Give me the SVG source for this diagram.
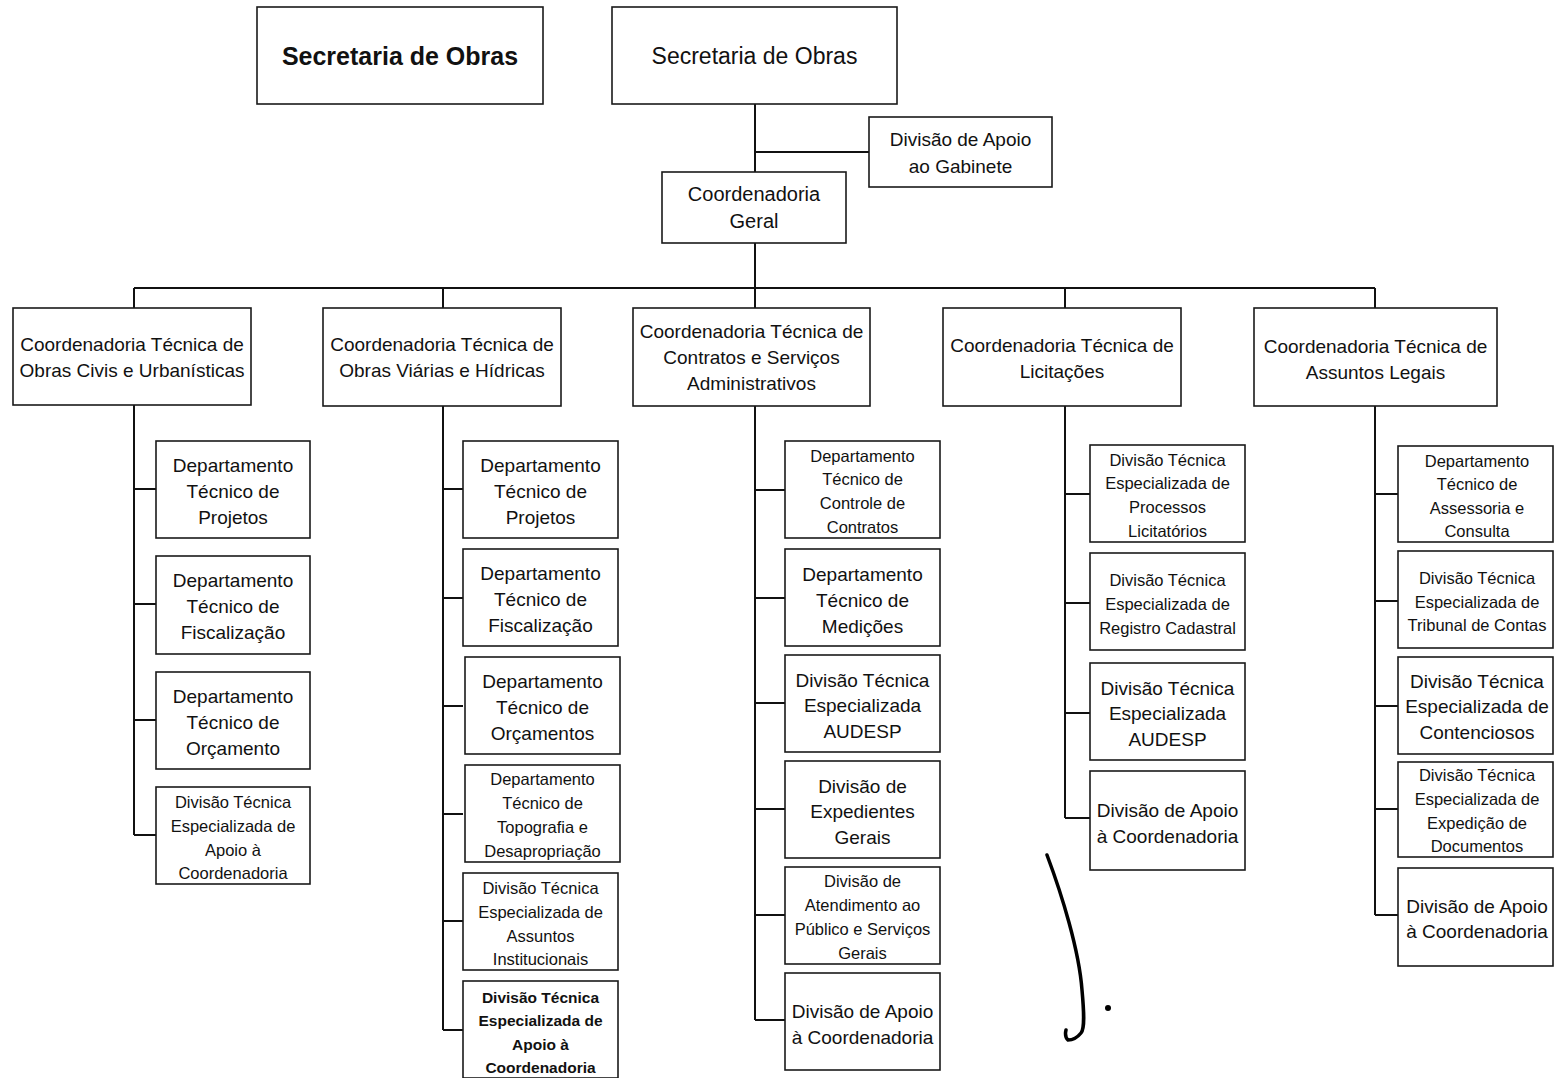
<svg xmlns="http://www.w3.org/2000/svg" width="1554" height="1078" viewBox="0 0 1554 1078">
<style>
.box{fill:#fff;stroke:#1a1a1a;stroke-width:1.6}
.c{fill:none;stroke:#111;stroke-width:2}
text{font-family:"Liberation Sans",Arial,sans-serif;fill:#111;text-anchor:middle;dominant-baseline:central}
.t19{font-size:19px}
.t20{font-size:20px}
.t16{font-size:16.5px}
.b16{font-size:15.5px;font-weight:bold}
.title{font-size:25px;font-weight:bold}
</style>
<rect width="1554" height="1078" fill="#fff"/>
<g id="connectors">
<path class="c" d="M755 104V172M755 152H869M755 243V288M134 288H1375M134 288V308M443 288V308M755 288V308M1065 288V308M1375 288V308"/>
<path class="c" d="M134 405V835M134 489H156M134 604H156M134 720H156M134 835H156"/>
<path class="c" d="M443 406V1030M443 489H463M443 598H463M443 706H463M443 814H463M443 921H463M443 1030H463"/>
<path class="c" d="M755 406V1020M755 490H785M755 598H785M755 703H785M755 809H785M755 915H785M755 1020H785"/>
<path class="c" d="M1065 406V818M1065 494H1090M1065 603H1090M1065 713H1090M1065 818H1090"/>
<path class="c" d="M1375 406V915M1375 494H1398M1375 601H1398M1375 706H1398M1375 809H1398M1375 915H1398"/>
</g>
<g id="sec-left"><rect class="box" x="257" y="7" width="286" height="97"/><text class="title" x="400" y="56">Secretaria de Obras</text></g>
<g id="sec-right"><rect class="box" x="612" y="7" width="285" height="97"/><text x="754.5" y="56" style="font-size:23px">Secretaria de Obras</text></g>
<g id="apoio-gabinete"><rect class="box" x="869" y="117" width="183" height="70"/><text class="t19" x="960.5" y="139">Divisão de Apoio</text><text class="t19" x="960.5" y="166">ao Gabinete</text></g>
<g id="coord-geral"><rect class="box" x="662" y="172" width="184" height="71"/><text class="t20" x="754" y="194">Coordenadoria</text><text class="t20" x="754" y="221">Geral</text></g>

<g id="ct1"><rect class="box" x="13" y="308" width="238" height="97"/><text class="t19" x="132" y="344">Coordenadoria Técnica de</text><text class="t19" x="132" y="370">Obras Civis e Urbanísticas</text></g>
<g id="ct2"><rect class="box" x="323" y="308" width="238" height="98"/><text class="t19" x="442" y="344">Coordenadoria Técnica de</text><text class="t19" x="442" y="370">Obras Viárias e Hídricas</text></g>
<g id="ct3"><rect class="box" x="633" y="308" width="237" height="98"/><text class="t19" x="751.5" y="331">Coordenadoria Técnica de</text><text class="t19" x="751.5" y="357">Contratos e Serviços</text><text class="t19" x="751.5" y="383">Administrativos</text></g>
<g id="ct4"><rect class="box" x="943" y="308" width="238" height="98"/><text class="t19" x="1062" y="345">Coordenadoria Técnica  de</text><text class="t19" x="1062" y="371">Licitações</text></g>
<g id="ct5"><rect class="box" x="1254" y="308" width="243" height="98"/><text class="t19" x="1375.5" y="346">Coordenadoria Técnica de</text><text class="t19" x="1375.5" y="372">Assuntos Legais</text></g>

<g id="c1-1"><rect class="box" x="156" y="441" width="154" height="97"/><text class="t19" x="233" y="465">Departamento</text><text class="t19" x="233" y="491">Técnico de</text><text class="t19" x="233" y="517">Projetos</text></g>
<g id="c1-2"><rect class="box" x="156" y="556" width="154" height="98"/><text class="t19" x="233" y="580">Departamento</text><text class="t19" x="233" y="606">Técnico de</text><text class="t19" x="233" y="632">Fiscalização</text></g>
<g id="c1-3"><rect class="box" x="156" y="672" width="154" height="97"/><text class="t19" x="233" y="696">Departamento</text><text class="t19" x="233" y="722">Técnico de</text><text class="t19" x="233" y="748">Orçamento</text></g>
<g id="c1-4"><rect class="box" x="156" y="787" width="154" height="97"/><text class="t16" x="233" y="802">Divisão Técnica</text><text class="t16" x="233" y="826">Especializada de</text><text class="t16" x="233" y="850">Apoio à</text><text class="t16" x="233" y="873">Coordenadoria</text></g>

<g id="c2-1"><rect class="box" x="463" y="441" width="155" height="97"/><text class="t19" x="540.5" y="465">Departamento</text><text class="t19" x="540.5" y="491">Técnico de</text><text class="t19" x="540.5" y="517">Projetos</text></g>
<g id="c2-2"><rect class="box" x="463" y="549" width="155" height="97"/><text class="t19" x="540.5" y="573">Departamento</text><text class="t19" x="540.5" y="599">Técnico de</text><text class="t19" x="540.5" y="625">Fiscalização</text></g>
<g id="c2-3"><rect class="box" x="465" y="657" width="155" height="97"/><text class="t19" x="542.5" y="681">Departamento</text><text class="t19" x="542.5" y="707">Técnico de</text><text class="t19" x="542.5" y="733">Orçamentos</text></g>
<g id="c2-4"><rect class="box" x="465" y="765" width="155" height="97"/><text class="t16" x="542.5" y="779">Departamento</text><text class="t16" x="542.5" y="803">Técnico de</text><text class="t16" x="542.5" y="827">Topografia e</text><text class="t16" x="542.5" y="851">Desapropriação</text></g>
<g id="c2-5"><rect class="box" x="463" y="873" width="155" height="97"/><text class="t16" x="540.5" y="888">Divisão Técnica</text><text class="t16" x="540.5" y="912">Especializada de</text><text class="t16" x="540.5" y="936">Assuntos</text><text class="t16" x="540.5" y="959">Institucionais</text></g>
<g id="c2-6"><rect class="box" x="463" y="981" width="155" height="97"/><text class="b16" x="540.5" y="997">Divisão Técnica</text><text class="b16" x="540.5" y="1020">Especializada de</text><text class="b16" x="540.5" y="1044">Apoio à</text><text class="b16" x="540.5" y="1067">Coordenadoria</text></g>

<g id="c3-1"><rect class="box" x="785" y="441" width="155" height="97"/><text class="t16" x="862.5" y="456">Departamento</text><text class="t16" x="862.5" y="479">Técnico de</text><text class="t16" x="862.5" y="503">Controle de</text><text class="t16" x="862.5" y="527">Contratos</text></g>
<g id="c3-2"><rect class="box" x="785" y="549" width="155" height="97"/><text class="t19" x="862.5" y="574">Departamento</text><text class="t19" x="862.5" y="600">Técnico de</text><text class="t19" x="862.5" y="626">Medições</text></g>
<g id="c3-3"><rect class="box" x="785" y="655" width="155" height="97"/><text class="t19" x="862.5" y="680">Divisão Técnica</text><text class="t19" x="862.5" y="705">Especializada</text><text class="t19" x="862.5" y="731">AUDESP</text></g>
<g id="c3-4"><rect class="box" x="785" y="761" width="155" height="97"/><text class="t19" x="862.5" y="786">Divisão de</text><text class="t19" x="862.5" y="811">Expedientes</text><text class="t19" x="862.5" y="837">Gerais</text></g>
<g id="c3-5"><rect class="box" x="785" y="867" width="155" height="97"/><text class="t16" x="862.5" y="881">Divisão de</text><text class="t16" x="862.5" y="905">Atendimento ao</text><text class="t16" x="862.5" y="929">Público e Serviços</text><text class="t16" x="862.5" y="953">Gerais</text></g>
<g id="c3-6"><rect class="box" x="785" y="973" width="155" height="97"/><text class="t19" x="862.5" y="1011">Divisão de Apoio</text><text class="t19" x="862.5" y="1037">à Coordenadoria</text></g>

<g id="c4-1"><rect class="box" x="1090" y="445" width="155" height="97"/><text class="t16" x="1167.5" y="460">Divisão Técnica</text><text class="t16" x="1167.5" y="483">Especializada  de</text><text class="t16" x="1167.5" y="507">Processos</text><text class="t16" x="1167.5" y="531">Licitatórios</text></g>
<g id="c4-2"><rect class="box" x="1090" y="553" width="155" height="97"/><text class="t16" x="1167.5" y="580">Divisão Técnica</text><text class="t16" x="1167.5" y="604">Especializada de</text><text class="t16" x="1167.5" y="628">Registro Cadastral</text></g>
<g id="c4-3"><rect class="box" x="1090" y="663" width="155" height="97"/><text class="t19" x="1167.5" y="688">Divisão Técnica</text><text class="t19" x="1167.5" y="713">Especializada</text><text class="t19" x="1167.5" y="739">AUDESP</text></g>
<g id="c4-4"><rect class="box" x="1090" y="771" width="155" height="99"/><text class="t19" x="1167.5" y="810">Divisão de Apoio</text><text class="t19" x="1167.5" y="836">à Coordenadoria</text></g>

<g id="c5-1"><rect class="box" x="1398" y="446" width="155" height="96"/><text class="t16" x="1477" y="461">Departamento</text><text class="t16" x="1477" y="484">Técnico de</text><text class="t16" x="1477" y="508">Assessoria e</text><text class="t16" x="1477" y="531">Consulta</text></g>
<g id="c5-2"><rect class="box" x="1398" y="551" width="155" height="97"/><text class="t16" x="1477" y="578">Divisão Técnica</text><text class="t16" x="1477" y="602">Especializada de</text><text class="t16" x="1477" y="625">Tribunal de Contas</text></g>
<g id="c5-3"><rect class="box" x="1398" y="657" width="155" height="97"/><text class="t19" x="1477" y="681">Divisão Técnica</text><text class="t19" x="1477" y="706">Especializada de</text><text class="t19" x="1477" y="732">Contenciosos</text></g>
<g id="c5-4"><rect class="box" x="1398" y="762" width="155" height="95"/><text class="t16" x="1477" y="775">Divisão Técnica</text><text class="t16" x="1477" y="799">Especializada de</text><text class="t16" x="1477" y="823">Expedição de</text><text class="t16" x="1477" y="846">Documentos</text></g>
<g id="c5-5"><rect class="box" x="1398" y="868" width="155" height="98"/><text class="t19" x="1477" y="906">Divisão de Apoio</text><text class="t19" x="1477" y="931">à Coordenadoria</text></g>

<g id="mark">
<path d="M1047 855C1062 895 1079 950 1082 990C1084 1012 1085 1028 1081 1033C1077 1038 1072 1040 1068 1040C1066 1038 1065 1034 1066 1030" fill="none" stroke="#000" stroke-width="3.5" stroke-linecap="round" stroke-linejoin="round"/>
<circle cx="1108" cy="1008" r="3" fill="#000"/>
</g>
</svg>
